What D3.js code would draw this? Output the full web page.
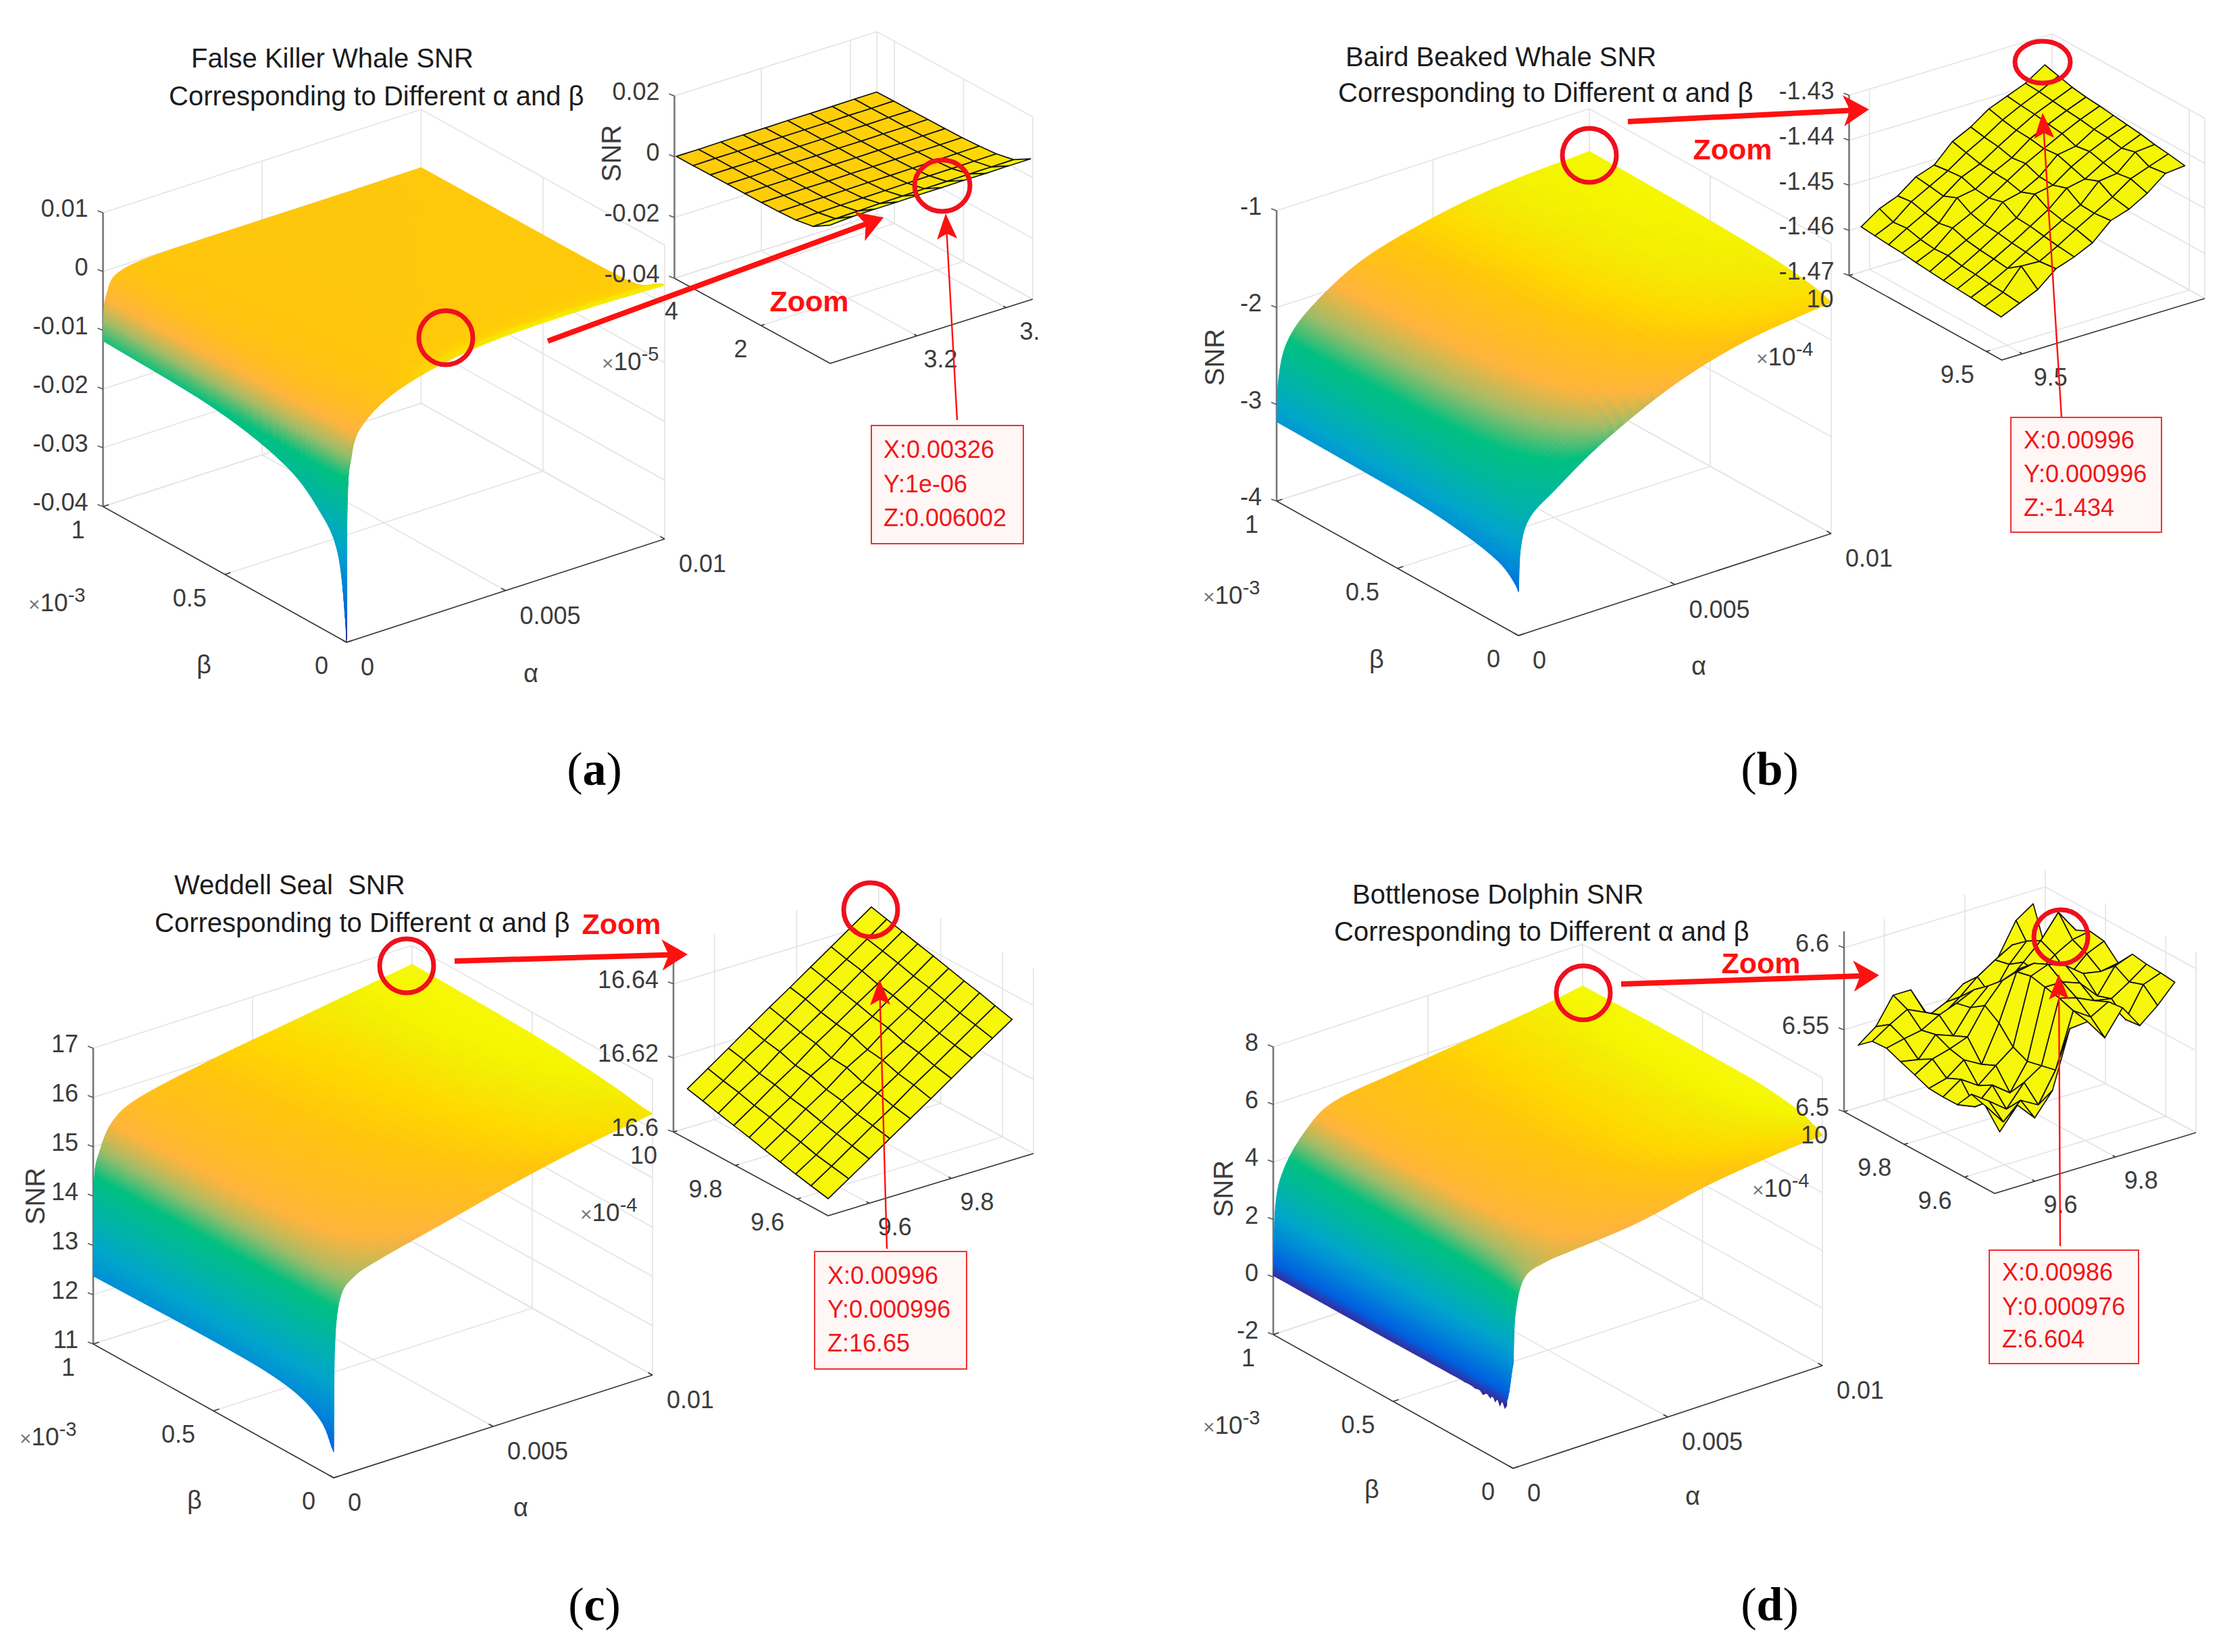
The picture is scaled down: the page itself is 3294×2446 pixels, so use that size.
<!DOCTYPE html>
<html><head><meta charset="utf-8">
<style>
html,body{margin:0;padding:0;background:#fff}
svg{display:block}
text{font-family:"Liberation Sans",Arial,sans-serif;white-space:pre}
</style>
<script src="https://cdnjs.cloudflare.com/ajax/libs/d3/7.8.5/d3.min.js"></script>
</head><body><svg id="c" width="3294" height="2446" viewBox="0 0 3294 2446"></svg>
<script>
// ---------- colormap ----------
const cmapStops=[0,.03,.085,.22,.33,.45,.6,.69,.77,.87,.91,.95,.97,1];
const cmapColors=["#352a87","#3034a8","#0060e0","#0088d8","#00a4cc","#00b2ac","#00c080","#a0bc68","#ffb43c","#ffc40e","#ffd800","#f4ec04","#f5f600","#f7f80a"];

// ---------- main surfaces: alpha nodes, beta nodes (x1e-3), SNR rows ----------
const whaleAlpha=[0,.00001,.00003,.00012,.00045,.00167,.004,.007,.01];
const whaleBeta=[0,.005,.036,.11,.255,.55,1];
const whaleSNR=[
[-.04,-.024,-.015,-.0095,-.0042,.0002,.003,.0036,.0032],
[-.036,-.022,-.014,-.009,-.004,.0001,.0028,.0034,.0032],
[-.0255,-.018,-.012,-.008,-.0035,-.0003,.0022,.0028,.0026],
[-.0202,-.015,-.011,-.0075,-.0028,-.0005,.0006,.0009,.0008],
[-.0156,-.0115,-.009,-.0058,-.002,-.0003,.0001,.0002,.0003],
[-.0127,-.0095,-.0075,-.005,-.0015,-.0002,0,.0001,.0002],
[-.0118,-.0085,-.0065,-.004,-.0011,-.0001,0,0,.0001]];

const bairdAlpha=[0,.00007,.00036,.00116,.00274,.005,.0073,.01];
const bairdBeta=[0,.01,.075,.207,.41,.7,1];
const bairdSNR=[
[-3.55,-3.1,-2.82,-2.62,-2.28,-1.93,-1.72,-1.61],
[-3.5,-3.05,-2.78,-2.5,-2.18,-1.88,-1.69,-1.6],
[-3.36,-2.96,-2.64,-2.36,-2.05,-1.78,-1.62,-1.55],
[-3.27,-2.86,-2.52,-2.24,-1.93,-1.7,-1.56,-1.5],
[-3.21,-2.8,-2.46,-2.17,-1.87,-1.65,-1.52,-1.47],
[-3.19,-2.76,-2.42,-2.13,-1.83,-1.62,-1.5,-1.45],
[-3.18,-2.73,-2.38,-2.1,-1.8,-1.6,-1.49,-1.44]];

const sealAlpha=[0,.00003,.0002,.00064,.00153,.00377,.006,.0082,.01];
const sealBeta=[0,.059,.205,.5,1];
const sealSNR=[
[11.52,13.6,14.6,14.95,15.15,15.5,15.85,16.13,16.3],
[12.04,13.8,14.7,15.05,15.3,15.62,15.95,16.2,16.33],
[12.35,14.0,14.75,15.2,15.5,15.8,16.05,16.3,16.44],
[12.42,14.15,14.82,15.32,15.62,15.92,16.14,16.4,16.56],
[12.38,14.26,14.86,15.41,15.71,16.0,16.22,16.44,16.62]];

const dolphinAlpha=[0,.00008,.00037,.00105,.00196,.00402,.0063,.0086,.01];
const dolphinBeta=[0,.037,.127,.332,.628,1];
const dolphinSNR=[
[1.6,3.4,4.5,4.8,4.9,5.1,5.6,5.9,6.0],
[.1,3.1,4.3,4.75,5.0,5.3,5.7,6.0,6.2],
[.08,2.85,4.05,4.72,5.1,5.5,5.9,6.2,6.45],
[.07,2.65,3.85,4.72,5.25,5.65,6.02,6.32,6.6],
[.05,2.55,3.75,4.72,5.35,5.7,6.03,6.33,6.6],
[.05,2.5,3.68,4.71,5.39,5.7,6.0,6.3,6.55]];
const dolphinFringeBeta=[.025,.035,.045,.055,.065,.075,.085,.095,.11,.125,.14,.16,.18,.2,.23,.26,.3,.34,.38,.42,.47,.52,.58,.64,.7,.78,.86,.94,1];
const dolphinFringeSNR=[.05,-.1,.12,-.12,.1,-.06,.14,-.02,.1,-.04,.08,.03,.1,.05,.08,.06,.07,.05,.08,.06,.08,.06,.05,.07,.05,.06,.05,.06,.05];

// ---------- zoomed meshes: rows run from largest beta to smallest beta ----------
const whaleZoomAlpha=[3.005,3.055,3.105,3.155,3.205,3.255,3.305,3.355,3.405,3.455];
const whaleZoomBeta=[4.45,3.96,3.46,2.97,2.47,1.98,1.48,.99,.49,0];
const whaleZoomSNR=[
[.0004,.0004,.0005,.0005,.0005,.0006,.0006,.0006,.0007,.0007],
[.0004,.0005,.0005,.0005,.0006,.0006,.0006,.0007,.0007,.0008],
[.0005,.0005,.0005,.0006,.0006,.0006,.0007,.0007,.0008,.0008],
[.0005,.0005,.0006,.0006,.0006,.0007,.0007,.0008,.0008,.0009],
[.0005,.0006,.0006,.0007,.0007,.0007,.0008,.0008,.0009,.001],
[.0006,.0006,.0007,.0007,.0008,.0008,.0009,.001,.001,.0011],
[.0007,.0008,.0008,.0009,.001,.001,.0011,.0012,.0013,.0014],
[.001,.0011,.0012,.0013,.0014,.0015,.0016,.0017,.0018,.0019],
[.002,.0022,.0024,.0026,.0027,.0028,.0029,.003,.003,.0031],
[.0055,.006,.0061,.0061,.0062,.0062,.0063,.0063,.0064,.0064]];

const bairdZoomAlpha=[9.477,9.527,9.577,9.627,9.677,9.727,9.777,9.827,9.877,9.927,9.98];
const bairdZoomBeta=[10,9.95,9.9,9.85,9.8,9.75,9.7,9.65,9.6,9.55,9.49];
const bairdZoomSNR=[
[-1.46,-1.4572,-1.4556,-1.4526,-1.4512,-1.4472,-1.4452,-1.4424,-1.4408,-1.4392,-1.4364],
[-1.4603,-1.4585,-1.4552,-1.453,-1.4508,-1.448,-1.4458,-1.4432,-1.4412,-1.4394,-1.4372],
[-1.4606,-1.4582,-1.456,-1.4535,-1.4505,-1.4488,-1.4462,-1.4438,-1.4415,-1.4398,-1.438],
[-1.4608,-1.459,-1.4566,-1.4522,-1.4515,-1.449,-1.447,-1.444,-1.442,-1.4402,-1.4385],
[-1.4612,-1.4594,-1.456,-1.454,-1.4518,-1.4492,-1.4466,-1.4445,-1.4424,-1.4405,-1.4388],
[-1.4615,-1.4592,-1.457,-1.4548,-1.451,-1.45,-1.4478,-1.4442,-1.4435,-1.441,-1.4392],
[-1.4618,-1.4598,-1.4575,-1.455,-1.4528,-1.4488,-1.448,-1.4452,-1.443,-1.4412,-1.4396],
[-1.462,-1.46,-1.4578,-1.4555,-1.453,-1.4505,-1.447,-1.4462,-1.4438,-1.4418,-1.44],
[-1.4622,-1.4604,-1.4582,-1.4558,-1.4535,-1.4512,-1.449,-1.445,-1.4445,-1.441,-1.4406],
[-1.4625,-1.4606,-1.456,-1.4562,-1.454,-1.4515,-1.4492,-1.4468,-1.444,-1.4425,-1.441],
[-1.4628,-1.461,-1.4592,-1.4558,-1.4544,-1.4525,-1.4488,-1.4475,-1.4452,-1.442,-1.4416]];

const sealZoomAlpha=[9.5,9.55,9.6,9.65,9.7,9.75,9.8,9.85,9.9,9.948];
const sealZoomBeta=[9.955,9.905,9.855,9.805,9.755,9.705,9.655,9.605,9.555,9.5];
const sealZoomSNR=[
[16.6137,16.6175,16.6213,16.6252,16.629,16.6327,16.6365,16.6403,16.6441,16.6478],
[16.6127,16.6164,16.6204,16.624,16.6279,16.6318,16.6355,16.6392,16.643,16.6467],
[16.6116,16.6155,16.619,16.6232,16.6268,16.6305,16.6344,16.6383,16.642,16.6457],
[16.6106,16.6143,16.6182,16.6218,16.626,16.6296,16.6334,16.637,16.641,16.6446],
[16.6096,16.6134,16.617,16.6212,16.6244,16.6288,16.6322,16.6362,16.6398,16.6436],
[16.6085,16.6122,16.6162,16.6198,16.624,16.6272,16.6314,16.635,16.6389,16.6425],
[16.6075,16.6112,16.615,16.619,16.6224,16.6266,16.63,16.634,16.6378,16.6414],
[16.6065,16.61,16.614,16.6176,16.6216,16.6252,16.6292,16.6328,16.6366,16.6404],
[16.6056,16.6092,16.613,16.6168,16.6204,16.6244,16.628,16.6318,16.6356,16.6392],
[16.6046,16.6083,16.612,16.6158,16.6195,16.6232,16.627,16.6308,16.6345,16.638]];

const dolphinZoomAlpha=[9.535,9.579,9.622,9.666,9.709,9.753,9.796,9.84,9.883,9.927,9.97];
const dolphinZoomBeta=[10,9.953,9.906,9.859,9.812,9.765,9.718,9.671,9.624,9.577,9.53];
const dolphinZoomSNR=[
[6.538,6.546,6.562,6.562,6.543,6.548,6.556,6.552,6.566,6.585,6.592],
[6.545,6.552,6.558,6.553,6.548,6.556,6.565,6.572,6.578,6.572,6.565],
[6.5455,6.548,6.55,6.556,6.56,6.565,6.558,6.574,6.585,6.575,6.572],
[6.542,6.54,6.552,6.548,6.562,6.572,6.57,6.58,6.59,6.604,6.59],
[6.5386,6.545,6.548,6.552,6.568,6.58,6.584,6.578,6.586,6.592,6.594],
[6.535,6.538,6.546,6.54,6.562,6.59,6.592,6.585,6.578,6.588,6.5926],
[6.5345,6.542,6.535,6.544,6.552,6.592,6.596,6.592,6.584,6.582,6.584],
[6.5345,6.53,6.54,6.532,6.548,6.59,6.59,6.586,6.575,6.59,6.594],
[6.5455,6.538,6.53,6.543,6.55,6.588,6.585,6.58,6.578,6.585,6.5926],
[6.543,6.53,6.54,6.534,6.552,6.585,6.578,6.584,6.57,6.588,6.592],
[6.532,6.545,6.534,6.5475,6.582,6.583,6.57,6.585,6.571,6.58,6.591]];

// ---------- tick values and labels ----------
const mainAlphaTicks=[0,.005,.01], mainAlphaLabels=["0","0.005","0.01"];
const mainBetaTicks=[0,.5,1], mainBetaLabels=["0","0.5","1"];
const whaleZTicks=[-.04,-.03,-.02,-.01,0,.01], whaleZLabels=["-0.04","-0.03","-0.02","-0.01","0","0.01"];
const bairdZTicks=[-4,-3,-2,-1], bairdZLabels=["-4","-3","-2","-1"];
const sealZTicks=[11,12,13,14,15,16,17], sealZLabels=["11","12","13","14","15","16","17"];
const dolphinZTicks=[-2,0,2,4,6,8], dolphinZLabels=["-2","0","2","4","6","8"];

// ---------- page layout ----------
const svg=d3.select("#c");
const colorOf=dom=>{const n=d3.scaleLinear().domain(dom).range([0,1]);
  const c=d3.scaleLinear().domain(cmapStops).range(cmapColors).interpolate(d3.interpolateRgb);
  return z=>c(Math.max(0,Math.min(1,n(z))));};

function makeProj(g){
  const fa=d3.scaleLinear().domain(g.ad).range([0,1]),fb=d3.scaleLinear().domain(g.bd).range([0,1]),
        fz=d3.scaleLinear().domain(g.zd).range([0,g.h]);
  const ex=[g.A[0]-g.O[0],g.A[1]-g.O[1]],ey=[g.B[0]-g.O[0],g.B[1]-g.O[1]];
  return (a,b,z)=>{const u=fa(a),v=fb(b);return [g.O[0]+u*ex[0]+v*ey[0],g.O[1]+u*ex[1]+v*ey[1]-fz(z)];};
}
const lineGen=d3.line();
function seg(p,pts,col,w){p.append("path").attr("d",lineGen(pts)).attr("fill","none").attr("stroke",col).attr("stroke-width",w);}

function drawBox(layer,g,t){
  const P=makeProj(g),[a0,a1]=g.ad,[b0,b1]=g.bd,[z0,z1]=g.zd;
  const grid=layer.append("g"),col="#e3e3e3",gw=1.6;
  t.z.forEach(z=>{seg(grid,[P(a0,b1,z),P(a1,b1,z),P(a1,b0,z)],col,gw);});
  seg(grid,[P(a0,b1,z0),P(a1,b1,z0),P(a1,b0,z0)],col,gw);
  [...t.a].forEach(a=>{if(a>a0&&a<a1){seg(grid,[P(a,b0,z0),P(a,b1,z0),P(a,b1,z1)],col,gw);}});
  [...t.b].forEach(b=>{if(b>b0&&b<b1){seg(grid,[P(a0,b,z0),P(a1,b,z0),P(a1,b,z1)],col,gw);}});
  seg(grid,[P(a1,b1,z0),P(a1,b1,z1)],col,gw);
  seg(grid,[P(a1,b0,z0),P(a1,b0,z1)],col,gw);
  const ax=layer.append("g"),axc="#3a3a3a";
  seg(ax,[P(a0,b1,z0),P(a0,b0,z0),P(a1,b0,z0)],axc,1.7);
  seg(ax,[P(a0,b1,z0),P(a0,b1,z1)],"#777",2.6);
  const da=(a1-a0)*.018,db=(b1-b0)*.018;
  t.a.forEach(a=>seg(ax,[P(a,b0,z0),P(a,b0+db,z0)],axc,1.7));
  t.b.forEach(b=>seg(ax,[P(a0,b,z0),P(a0+da,b,z0)],axc,1.7));
  t.z.forEach(z=>{const q=P(a0,b1,z);seg(ax,[q,[q[0]-8,q[1]-3]],"#555",1.6);});
}

function tickText(layer,g,t,o){
  const P=makeProj(g),[a0,a1]=g.ad,[b0,b1]=g.bd,[z0]=g.zd,gt=layer.append("g").attr("fill","#3c3c3c").attr("font-size",o.fs);
  t.z.forEach((z,i)=>{const q=P(a0,b1,z);gt.append("text").attr("x",q[0]+o.zo[0]).attr("y",q[1]+o.zo[1]).attr("text-anchor","end").text(t.zl[i]);});
  t.a.forEach((a,i)=>{const q=P(a,b0,z0);gt.append("text").attr("x",q[0]+o.ao[0]).attr("y",q[1]+o.ao[1]).attr("text-anchor",o.aa).text(t.al[i]);});
  t.b.forEach((b,i)=>{const q=P(a0,b,z0);gt.append("text").attr("x",q[0]+o.bo[0]).attr("y",q[1]+o.bo[1]).attr("text-anchor",o.ba).text(t.bl[i]);});
}

// monotone hermite evaluation through nodes, in node-index space
function mono(vals,t){
  const n=vals.length-1;let i=Math.min(Math.floor(t),n-1);if(i<0)i=0;const s=t-i;
  const d=k=>vals[Math.max(0,Math.min(n,k+1))]-vals[Math.max(0,Math.min(n,k))];
  const m=k=>{const dl=k>0?d(k-1):d(k),dr=k<n?d(k):d(k-1);
    if(dl*dr<=0)return 0;const c=(dl+dr)/2,l=3*Math.min(Math.abs(dl),Math.abs(dr));return Math.sign(c)*Math.min(Math.abs(c),l);};
  const p0=vals[i],p1=vals[i+1],m0=m(i),m1=m(i+1),s2=s*s,s3=s2*s;
  return (2*s3-3*s2+1)*p0+(s3-2*s2+s)*m0+(-2*s3+3*s2)*p1+(s3-s2)*m1;
}

function drawSurface(layer,g,alpha,beta,snr,col){
  const P=makeProj(g),G=layer.append("g");
  const ua=[],ub=[];
  for(let i=0;i<alpha.length-1;i++){const n=i<1?34:i<4?16:7;for(let k=0;k<n;k++)ua.push(i+k/n);}
  ua.push(alpha.length-1);
  for(let j=0;j<beta.length-1;j++){const n=7;for(let k=0;k<n;k++)ub.push(j+k/n);}
  ub.push(beta.length-1);
  const As=ua.map(t=>mono(alpha,t)),Bs=ub.map(t=>mono(beta,t));
  const Z=ua.map(t=>{const colv=snr.map(r=>mono(r,t));return ub.map(s=>mono(colv,s));});
  const cells=[];
  for(let i=ua.length-2;i>=0;i--)for(let j=ub.length-2;j>=0;j--){
    const zz=(Z[i][j]+Z[i+1][j]+Z[i][j+1]+Z[i+1][j+1])/4;
    cells.push({pts:[P(As[i],Bs[j],Z[i][j]),P(As[i+1],Bs[j],Z[i+1][j]),P(As[i+1],Bs[j+1],Z[i+1][j+1]),P(As[i],Bs[j+1],Z[i][j+1])],c:col(zz)});
  }
  G.selectAll("polygon").data(cells).join("polygon")
   .attr("points",d=>d.pts.map(p=>p[0].toFixed(1)+","+p[1].toFixed(1)).join(" "))
   .attr("fill",d=>d.c).attr("stroke",d=>d.c).attr("stroke-width",1);
}

function drawMesh(layer,g,alpha,beta,snr,col){
  const P=makeProj(g),G=layer.append("g"),cells=[];
  for(let j=0;j<beta.length-1;j++)for(let i=alpha.length-2;i>=0;i--){
    const zz=(snr[j][i]+snr[j][i+1]+snr[j+1][i]+snr[j+1][i+1])/4;
    cells.push({pts:[P(alpha[i],beta[j],snr[j][i]),P(alpha[i+1],beta[j],snr[j][i+1]),P(alpha[i+1],beta[j+1],snr[j+1][i+1]),P(alpha[i],beta[j+1],snr[j+1][i])],c:col(zz)});
  }
  G.selectAll("polygon").data(cells).join("polygon")
   .attr("points",d=>d.pts.map(p=>p[0].toFixed(1)+","+p[1].toFixed(1)).join(" "))
   .attr("fill",d=>d.c).attr("stroke","#111").attr("stroke-width",1.7).attr("stroke-linejoin","round");
}

function arrow(l,x0,y0,x1,y1,w,hl,hw,notch){
  const dx=x1-x0,dy=y1-y0,L=Math.hypot(dx,dy),ux=dx/L,uy=dy/L,nx=-uy,ny=ux;
  const bx=x1-ux*hl,by=y1-uy*hl,kx=x1-ux*(hl-notch),ky=y1-uy*(hl-notch);
  l.append("line").attr("x1",x0).attr("y1",y0).attr("x2",kx).attr("y2",ky).attr("stroke","#ff1010").attr("stroke-width",w);
  l.append("polygon").attr("points",[[x1,y1],[bx+nx*hw/2,by+ny*hw/2],[kx,ky],[bx-nx*hw/2,by-ny*hw/2]].map(p=>p.join(",")).join(" ")).attr("fill","#ff1010");
}
function ring(l,c,rx,ry){l.append("ellipse").attr("cx",c[0]).attr("cy",c[1]).attr("rx",rx).attr("ry",ry).attr("fill","none").attr("stroke","#f0101e").attr("stroke-width",7);}
function expLabel(l,x,y,e){
  const t=l.append("text").attr("x",x).attr("y",y).attr("fill","#3c3c3c").attr("font-size",37);
  t.append("tspan").attr("font-size",30).attr("fill","#777").text("×");
  t.append("tspan").text("10");
  t.append("tspan").attr("dy",-14).attr("font-size",29).text(e);
}
function label(l,x,y,s,fs,rot){
  const t=l.append("text").attr("text-anchor","middle").attr("fill","#3c3c3c").attr("font-size",fs).text(s);
  t.attr("transform",`translate(${x},${y})`+(rot?` rotate(${rot})`:""));
}

const panels=[
 {name:"a",
  title:["False Killer Whale SNR","Corresponding to Different α and β"],tp:[[283,100],[250,156]],
  main:{O:[513,951],A:[984,798],B:[152.5,750],ad:[0,.01],bd:[0,1],zd:[-.04,.01],h:435},
  zTicks:whaleZTicks,zLabels:whaleZLabels,cdom:[-.04,.0057],
  alpha:whaleAlpha,beta:whaleBeta,snr:whaleSNR,
  zoom:{O:[1229,538],A:[1529,443],B:[998.5,412],ad:[3.005,3.46],bd:[0,4.5],zd:[-.04,.02],h:270},
  zt:{a:[3.2,3.4],al:["3.2","3."],b:[2,4],bl:["2","4"],z:[-.04,-.02,0,.02],zl:["-0.04","-0.02","0","0.02"]},
  zoomAlpha:whaleZoomAlpha,zoomBeta:whaleZoomBeta,zoomSNR:whaleZoomSNR,
  ab:[786,1010],bb:[302,997],exp:[42,905,"-3"],snrL:null,
  zExp:[891,548,"-5"],zSnr:[905,227],
  rings:[[660,500],[1395,275]],ringR:[[40,40],[41,38]],
  thick:[811,505,1308,322],zoomT:[1198,461],thin:[1417,622,1400,316],
  box:[1290,630,225,175],boxT:["X:0.00326","Y:1e-06","Z:0.006002"],boxY:[678,729,779],boxX:1308,
  letter:"a",lp:[880,1162],zalabel:[35,47],zblabel:[-30,47]},
 {name:"b",
  title:["Baird Beaked Whale SNR","Corresponding to Different α and β"],tp:[[1992,98],[1981,151]],
  main:{O:[2248,941],A:[2711,790],B:[1890,742],ad:[0,.01],bd:[0,1],zd:[-4,-1],h:430},
  zTicks:bairdZTicks,zLabels:bairdZLabels,cdom:[-3.88,-1.38],
  alpha:bairdAlpha,beta:bairdBeta,snr:bairdSNR,
  zoom:{O:[2963.5,533],A:[3264,442],B:[2737.5,408],ad:[9.444,10],bd:[9.444,10],zd:[-1.47,-1.43],h:267},
  zt:{a:[9.5],al:["9.5"],b:[9.5,10],bl:["9.5","10"],z:[-1.47,-1.46,-1.45,-1.44,-1.43],zl:["-1.47","-1.46","-1.45","-1.44","-1.43"]},
  zoomAlpha:bairdZoomAlpha,zoomBeta:bairdZoomBeta,zoomSNR:bairdZoomSNR,
  ab:[2515,999],bb:[2038,989],exp:[1781,894,"-3"],snrL:[1798,529],
  zExp:[2600,541,"-4"],zSnr:null,
  rings:[[2353,230],[3024,92]],ringR:[[40,40],[41,31]],
  thick:[2410,180,2767,162],zoomT:[2565,236],thin:[3052,618,3024,167],
  box:[2977,618,223,170],boxT:["X:0.00996","Y:0.000996","Z:-1.434"],boxY:[664,714,764],boxX:2996,
  letter:"b",lp:[2620,1162],zalabel:[42,47],zblabel:[-43,47]},
 {name:"c",
  title:["Weddell Seal  SNR","Corresponding to Different α and β"],tp:[[258,1324],[229,1380]],
  main:{O:[494,2188],A:[966,2036],B:[138,1990],ad:[0,.01],bd:[0,1],zd:[11,17],h:438},
  zTicks:sealZTicks,zLabels:sealZLabels,cdom:[11,16.65],
  alpha:sealAlpha,beta:sealBeta,snr:sealSNR,
  zoom:{O:[1226,1800],A:[1530,1708],B:[997,1676],ad:[9.5,10],bd:[9.5,10],zd:[16.6,16.65],h:274},
  zt:{a:[9.6,9.8],al:["9.6","9.8"],b:[9.6,9.8,10],bl:["9.6","9.8","10"],z:[16.6,16.62,16.64],zl:["16.6","16.62","16.64"]},
  zoomAlpha:sealZoomAlpha,zoomBeta:sealZoomBeta,zoomSNR:sealZoomSNR,
  ab:[771,2245],bb:[288,2234],exp:[29,2140,"-3"],snrL:[52,1771],
  zExp:[859,1808,"-4"],zSnr:null,
  rings:[[602,1430],[1289,1347]],ringR:[[40,40],[40,40]],
  thick:[673,1423,1018,1413],zoomT:[920,1383],thin:[1313,1849,1302,1450],
  box:[1206,1853,225,174],boxT:["X:0.00996","Y:0.000996","Z:16.65"],boxY:[1901,1951,2001],boxX:1225,
  letter:"c",lp:[880,2399],zalabel:[38,47],zblabel:[-44,47]},
 {name:"d",
  title:["Bottlenose Dolphin SNR","Corresponding to Different α and β"],tp:[[2002,1338],[1975,1393]],
  main:{O:[2240,2174],A:[2698,2022],B:[1885,1976],ad:[0,.01],bd:[0,1],zd:[-2,8],h:426},
  zTicks:dolphinZTicks,zLabels:dolphinZLabels,cdom:[-.1,6.604],
  alpha:dolphinAlpha,beta:dolphinBeta,snr:dolphinSNR,
  zoom:{O:[2953,1767],A:[3251,1677],B:[2730,1646],ad:[9.5,10],bd:[9.5,10],zd:[6.5,6.61],h:267},
  zt:{a:[9.6,9.8],al:["9.6","9.8"],b:[9.6,9.8,10],bl:["9.6","9.8","10"],z:[6.5,6.55,6.6],zl:["6.5","6.55","6.6"]},
  zoomAlpha:dolphinZoomAlpha,zoomBeta:dolphinZoomBeta,zoomSNR:dolphinZoomSNR,
  ab:[2506,2228],bb:[2031,2218],exp:[1781,2123,"-3"],snrL:[1811,1760],
  zExp:[2594,1772,"-4"],zSnr:null,
  rings:[[2344,1470],[3051,1387]],ringR:[[40,40],[40,40]],
  thick:[2400,1457,2782,1444],zoomT:[2607,1441],thin:[3050,1845,3048,1442],
  box:[2945,1851,221,168],boxT:["X:0.00986","Y:0.000976","Z:6.604"],boxY:[1896,1947,1995],boxX:2964,
  letter:"d",lp:[2620,2399],zalabel:[38,47],zblabel:[-44,47],
  fringe:[dolphinFringeBeta,dolphinFringeSNR]}
];

panels.forEach(p=>{
  const g=svg.append("g").attr("id","panel-"+p.name),col=colorOf(p.cdom);
  const mt={a:mainAlphaTicks,al:mainAlphaLabels,b:mainBetaTicks,bl:mainBetaLabels,z:p.zTicks,zl:p.zLabels};
  drawBox(g,p.main,mt);
  drawBox(g,p.zoom,p.zt);
  if(p.fringe){
    const P=makeProj(p.main);
    const low=p.fringe[0].map((b,i)=>P(0,b,p.fringe[1][i]));
    const up=p.fringe[0].slice().reverse().map(b=>P(.00003,b,1.2));
    g.append("path").attr("d",d3.line()([...low,...up])+"Z").attr("fill",cmapColors[0]);
  }
  drawSurface(g,p.main,p.alpha,p.beta,p.snr,col);
  tickText(g,p.main,mt,{fs:36,zo:[-22,6],ao:[21,49],aa:"start",bo:[-27,47],ba:"end"});
  tickText(g,p.zoom,p.zt,{fs:36,zo:[-22,6],ao:p.zalabel,aa:"middle",bo:p.zblabel,ba:"middle"});
  drawMesh(g,p.zoom,p.zoomAlpha,p.zoomBeta,p.zoomSNR,col);
  label(g,p.ab[0],p.ab[1],"α",38);
  label(g,p.bb[0],p.bb[1],"β",38);
  expLabel(g,p.exp[0],p.exp[1],p.exp[2]);
  expLabel(g,p.zExp[0],p.zExp[1],p.zExp[2]);
  if(p.snrL)label(g,p.snrL[0]+14,p.snrL[1],"SNR",40,-90);
  if(p.zSnr)label(g,p.zSnr[0]+14,p.zSnr[1],"SNR",40,-90);
  p.title.forEach((s,i)=>g.append("text").attr("x",p.tp[i][0]).attr("y",p.tp[i][1]).attr("font-size",40).attr("fill","#1c1c1c").text(s));
  const an=g.append("g");
  p.rings.forEach((c,i)=>ring(an,c,p.ringR[i][0],p.ringR[i][1]));
  arrow(an,p.thick[0],p.thick[1],p.thick[2],p.thick[3],8,38,46,10);
  an.append("text").attr("x",p.zoomT[0]).attr("y",p.zoomT[1]).attr("text-anchor","middle").attr("font-size",43).attr("font-weight","bold").attr("fill","#ff1010").text("Zoom");
  arrow(an,p.thin[0],p.thin[1],p.thin[2],p.thin[3],2.4,38,30,8);
  an.append("rect").attr("x",p.box[0]).attr("y",p.box[1]).attr("width",p.box[2]).attr("height",p.box[3]).attr("fill","#fff6f6").attr("stroke","#f03030").attr("stroke-width",2);
  p.boxT.forEach((s,i)=>an.append("text").attr("x",p.boxX).attr("y",p.boxY[i]).attr("font-size",36).attr("fill","#f01818").text(s));
  const t=g.append("text").attr("x",p.lp[0]).attr("y",p.lp[1]).attr("text-anchor","middle").attr("font-size",70).style("font-family","'Liberation Serif',serif").attr("fill","#000");
  t.append("tspan").text("(");t.append("tspan").attr("font-weight","bold").text(p.letter);t.append("tspan").text(")");
});
</script></body></html>
